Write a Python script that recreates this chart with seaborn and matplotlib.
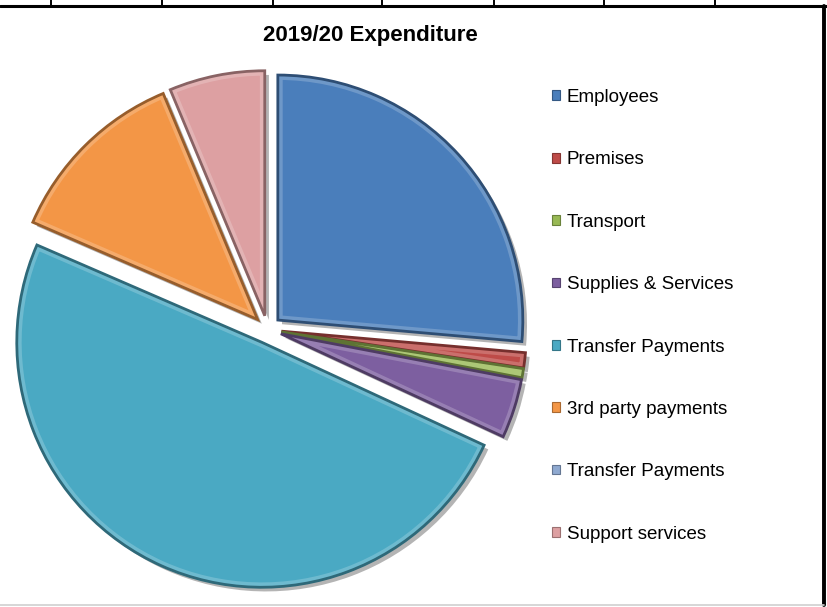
import matplotlib
matplotlib.use("Agg")
import matplotlib.pyplot as plt
import matplotlib.patheffects as pe
from matplotlib.patches import Patch, Wedge
from matplotlib.lines import Line2D
import matplotlib.colors as mcolors
import seaborn as sns

# Expenditure shares (%) for 2019/20
categories = ["Employees", "Premises", "Transport", "Supplies & Services",
              "Transfer Payments", "3rd party payments", "Transfer Payments",
              "Support services"]
values = [26.4, 1.0, 0.6, 3.9, 49.6, 12.2, 0.0, 6.3]
colors = ["#4A7EBB", "#BE4B48", "#98B954", "#7D5FA0",
          "#4AA9C3", "#F39646", "#8FA9D0", "#DDA0A2"]
title = "2019/20 Expenditure"

sns.set_theme(style="white")
plt.rcParams["font.family"] = ["Liberation Sans", "DejaVu Sans"]
plt.rcParams["text.color"] = "black"

W, H = 827, 607
fig = plt.figure(figsize=(W / 100, H / 100), dpi=100)
ax = fig.add_axes([0, 0, 1, 1])

radius = 245
center = (267.5, H - 329.5)
gap = 14  # outward offset of every slice, in pixels
wedges, _ = ax.pie(values, colors=colors, startangle=90, counterclock=False,
                   explode=[gap] * len(values), radius=radius, center=center,
                   frame=True)
ax.set_xlim(0, W)
ax.set_ylim(0, H)
ax.set_aspect("equal")
ax.axis("off")

for w, c, v in zip(wedges, colors, values):
    if v <= 0:
        w.set_visible(False)
        continue
    rgb = mcolors.to_rgb(c)
    dark = tuple(x * 0.62 for x in rgb)
    light = tuple(min(1.0, x + (1 - x) * 0.45) for x in rgb)
    w.set_edgecolor("none")
    w.set_path_effects([
        pe.SimplePatchShadow(offset=(3, -3), shadow_rgbFace=(0.35, 0.35, 0.35), alpha=0.45),
        pe.Normal(),
    ])
    # soft bevel: a light band just inside the rim, then a dark rim
    bevel = Wedge(w.center, w.r, w.theta1, w.theta2, facecolor="none",
                  edgecolor=light, linewidth=7, alpha=0.45, zorder=w.get_zorder() + 0.1)
    ax.add_patch(bevel)
    bevel.set_clip_path(w)
    rim = Wedge(w.center, w.r, w.theta1, w.theta2, facecolor="none",
                edgecolor=dark, linewidth=2.0, zorder=w.get_zorder() + 0.2)
    ax.add_patch(rim)

# Title
fig.text(370 / W, 1 - 36 / H, title, ha="center", va="center",
         fontsize=16, fontweight="bold", color="black")

# Legend
handles = [Patch(facecolor=c, edgecolor=tuple(x * 0.7 for x in mcolors.to_rgb(c)),
                 linewidth=0.8) for c in colors]
leg = fig.legend(handles, categories, loc="upper left",
                 bbox_to_anchor=(552 / W, 1 - 89 / H), frameon=False,
                 fontsize=13.5, handlelength=0.42, handleheight=0.42,
                 handletextpad=0.38, labelspacing=2.42, borderpad=0,
                 borderaxespad=0)
for t in leg.get_texts():
    t.set_color("black")

# Worksheet frame around the chart
frame_lw = 2.2
ax.add_line(Line2D([0, W], [H - 6, H - 6], color="black", lw=frame_lw, clip_on=False))
ax.add_line(Line2D([824, 824], [H - 6, 2], color="black", lw=frame_lw + 0.6, clip_on=False))
ax.add_line(Line2D([0, 824], [2, 2], color="#D0D0D0", lw=1.2, clip_on=False))
for gx in [51, 162, 273, 382, 494, 604, 715]:
    ax.add_line(Line2D([gx, gx], [H, H - 6], color="black", lw=1.4, clip_on=False))

fig.savefig("out.png", dpi=100, facecolor="white")
